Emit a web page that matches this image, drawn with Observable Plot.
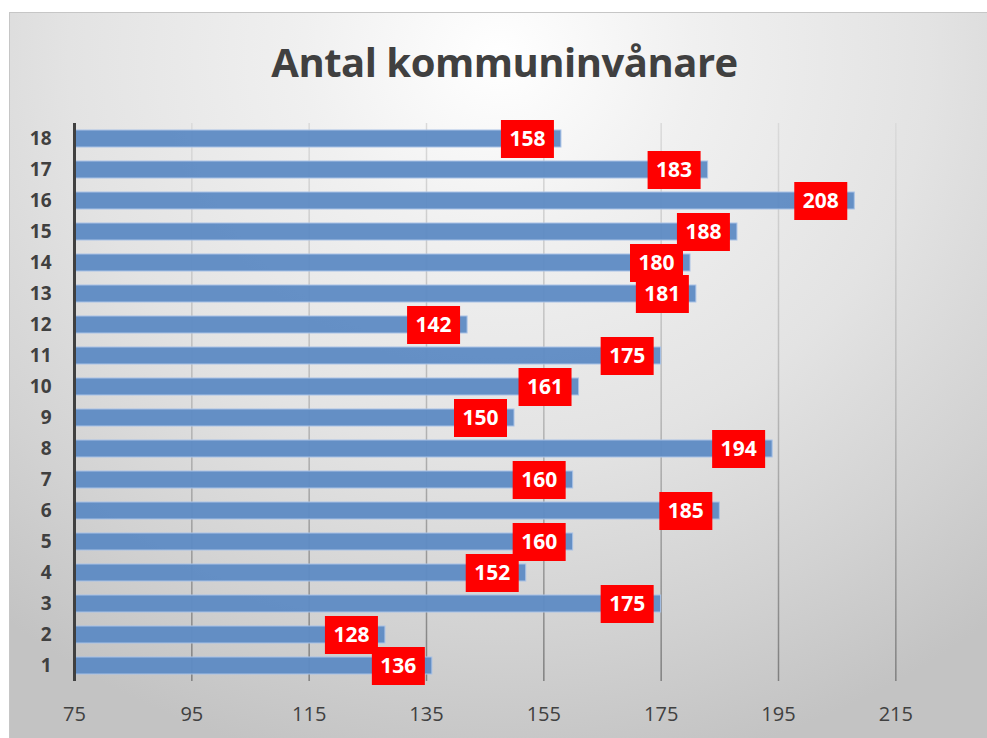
<!DOCTYPE html>
<html>
<head>
<meta charset="utf-8">
<script src="https://cdn.jsdelivr.net/npm/d3@7"></script>
<script src="https://cdn.jsdelivr.net/npm/@observablehq/plot@0.6"></script>
<style>
  html, body { margin: 0; padding: 0; background: #ffffff; }
  #wrap { position: relative; width: 987px; height: 738px; overflow: hidden; font-family: "Open Sans", sans-serif; }
  #frame { position: absolute; left: 9px; top: 12px; width: 980px; height: 728px; box-sizing: border-box;
    border: 1px solid #c6c6c6;
    background: radial-gradient(ellipse 80% 100% at 50% 6%, #ffffff 0%, #f0f0f0 25%, #e3e3e3 55%, #d2d2d2 80%, #c3c3c3 100%); }
  #title { position: absolute; left: 0; width: 1009px; top: 42px; text-align: center; font-size: 40px; line-height: 40px;
    font-weight: 700; color: #404040; letter-spacing: -0.5px; white-space: nowrap; }
  #chart { position: absolute; left: 0; top: 0; }
</style>
</head>
<body>
<div id="wrap">
  <div id="frame"></div>
  <div id="title">Antal kommuninvånare</div>
  <div id="chart"></div>
</div>
<script>
const categories = ["1","2","3","4","5","6","7","8","9","10","11","12","13","14","15","16","17","18"];
const values = [136,128,175,152,160,185,160,194,150,161,175,142,181,180,188,208,183,158];
const xTicks = [75,95,115,135,155,175,195,215];
const xDomain = [75,225];

const data = categories.map((c, i) => ({cat: c, value: values[i]}));

const labelBox = { draw(context) { context.rect(-26.5, -19, 53, 38); } };

const gridDefs = () => {
  const defs = d3.create("svg:defs");
  const g = defs.append("linearGradient").attr("id", "gridGrad")
    .attr("gradientUnits", "userSpaceOnUse").attr("x1", 0).attr("x2", 0).attr("y1", 123).attr("y2", 681);
  g.append("stop").attr("offset", "0%").attr("stop-color", "#dadada");
  g.append("stop").attr("offset", "50%").attr("stop-color", "#b8b8b8");
  g.append("stop").attr("offset", "100%").attr("stop-color", "#7f7f7f");
  return defs.node();
};

const chart = Plot.plot({
  width: 987,
  height: 738,
  marginLeft: 74,
  marginRight: 33,
  marginTop: 123,
  marginBottom: 57,
  style: { background: "transparent", fontFamily: "Open Sans, sans-serif", overflow: "visible" },
  x: { domain: xDomain, ticks: xTicks },
  y: { domain: categories.slice().reverse(), paddingInner: 0.45, paddingOuter: 0.225 },
  marks: [
    gridDefs,
    Plot.ruleX(xTicks.slice(1), { stroke: "url(#gridGrad)", strokeWidth: 1.5 }),
    Plot.barX(data, { x1: xDomain[0], x2: "value", y: "cat", fill: "#5f8bc4", fillOpacity: 0.96, stroke: "#a9c2e6", strokeWidth: 1 }),
    Plot.ruleX([xDomain[0]], { stroke: "#404040", strokeWidth: 3 }),
    Plot.axisX({ ticks: xTicks, tickSize: 0, tickPadding: 25, fontSize: 20, fill: "#404040", label: null }),
    Plot.axisY({ tickSize: 0, tickPadding: 23, fontSize: 19, fontWeight: "bold", fill: "#404040", label: null }),
    Plot.dot(data, { x: "value", y: "cat", symbol: labelBox, fill: "#ff0000", dx: -34 }),
    Plot.text(data, { x: "value", y: "cat", text: d => String(d.value), dx: -34, fill: "#ffffff", fontSize: 21, fontWeight: "bold" })
  ]
});
document.getElementById("chart").appendChild(chart);
</script>
</body>
</html>
